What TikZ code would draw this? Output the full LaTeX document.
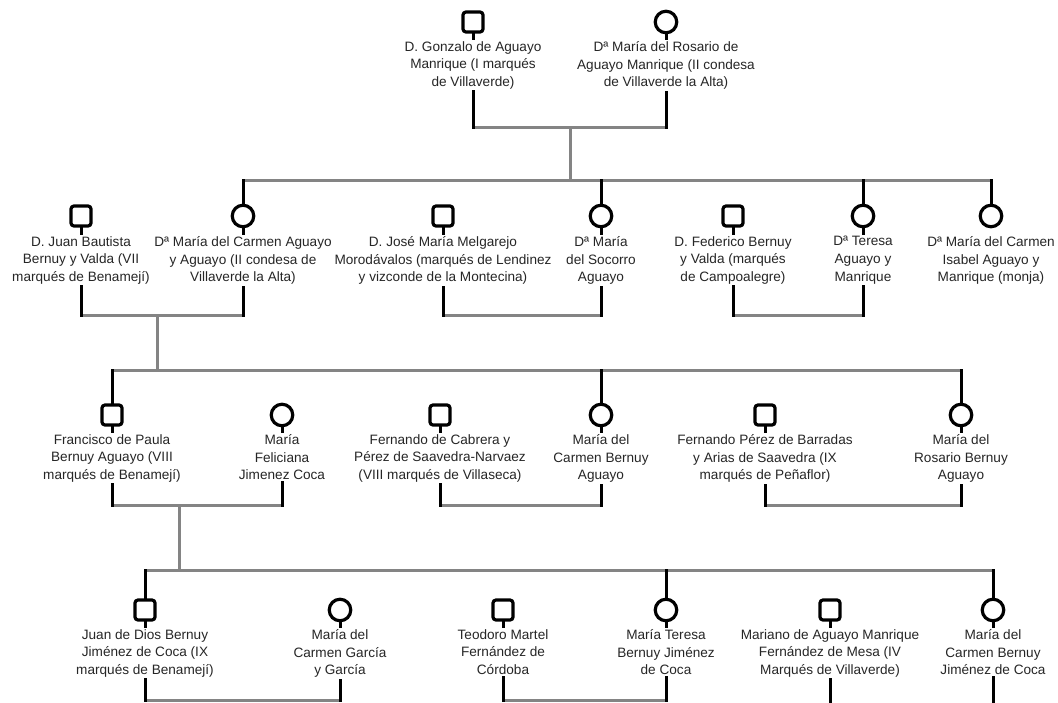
\documentclass[tikz,border=0pt]{standalone}
\usepackage{fontspec}
\setmainfont{Liberation Sans}
\usetikzlibrary{backgrounds}
\definecolor{gline}{RGB}{132,132,132}
\definecolor{txt}{RGB}{38,38,38}
\begin{document}
\begin{tikzpicture}[x=1pt,y=-1pt,
  male/.style={draw=black, line width=3.2pt, fill=white, rounded corners=3pt, minimum size=20pt, inner sep=0pt},
  female/.style={circle, draw=black, line width=3.2pt, fill=white, minimum size=21.5pt, inner sep=0pt},
  lbl/.style={fill=white, text=txt, align=center, inner sep=1pt, anchor=north, font=\fontsize{13.6}{17.8}\selectfont},
  bl/.style={draw=black, line width=3pt, line cap=rect},
  gl/.style={draw=gline, line width=3pt, line cap=rect},
]
\useasboundingbox (0,0) rectangle (1058,702);

% ---------- generation 0 ----------
\node[male]   (gonS) at (473,22) {};
\node[lbl]    (gonT) at (473,40) {D. Gonzalo de Aguayo\\Manrique (I marqués\\de Villaverde)};
\node[female] (rosS) at (666,22) {};
\node[lbl]    (rosT) at (666,40) {Dª María del Rosario de\\Aguayo Manrique (II condesa\\de Villaverde la Alta)};

% ---------- generation 1 ----------
\node[male]   (juaS) at (81,216) {};
\node[lbl]    (juaT) at (81,235) {D. Juan Bautista\\Bernuy y Valda (VII\\marqués de Benamejí)};
\node[female] (carS) at (243,216) {};
\node[lbl]    (carT) at (243,235) {Dª María del Carmen Aguayo\\y Aguayo (II condesa de\\Villaverde la Alta)};
\node[male]   (josS) at (443,216) {};
\node[lbl]    (josT) at (443,235) {D. José María Melgarejo\\Morodávalos (marqués de Lendinez\\y vizconde de la Montecina)};
\node[female] (socS) at (601,216) {};
\node[lbl]    (socT) at (601,235) {Dª María\\del Socorro\\Aguayo};
\node[male]   (fedS) at (733,216) {};
\node[lbl]    (fedT) at (733,235) {D. Federico Bernuy\\y Valda (marqués\\de Campoalegre)};
\node[female] (terS) at (863,216) {};
\node[lbl]    (terT) at (863,235) {Dª Teresa\\Aguayo y\\Manrique};
\node[female] (cisS) at (991,216) {};
\node[lbl]    (cisT) at (991,235) {Dª María del Carmen\\Isabel Aguayo y\\Manrique (monja)};

% ---------- generation 2 ----------
\node[male]   (fraS) at (112,415) {};
\node[lbl]    (fraT) at (112,433) {Francisco de Paula\\Bernuy Aguayo (VIII\\marqués de Benamejí)};
\node[female] (felS) at (282,415) {};
\node[lbl]    (felT) at (282,433) {María\\Feliciana\\Jimenez Coca};
\node[male]   (cabS) at (440,415) {};
\node[lbl]    (cabT) at (440,433) {Fernando de Cabrera y\\Pérez de Saavedra-Narvaez\\(VIII marqués de Villaseca)};
\node[female] (cbaS) at (601,415) {};
\node[lbl]    (cbaT) at (601,433) {María del\\Carmen Bernuy\\Aguayo};
\node[male]   (perS) at (765,415) {};
\node[lbl]    (perT) at (765,433) {Fernando Pérez de Barradas\\y Arias de Saavedra (IX\\marqués de Peñaflor)};
\node[female] (rbaS) at (961,415) {};
\node[lbl]    (rbaT) at (961,433) {María del\\Rosario Bernuy\\Aguayo};

% ---------- generation 3 ----------
\node[male]   (jdiS) at (145,610) {};
\node[lbl]    (jdiT) at (145,628) {Juan de Dios Bernuy\\Jiménez de Coca (IX\\marqués de Benamejí)};
\node[female] (cgaS) at (340,610) {};
\node[lbl]    (cgaT) at (340,628) {María del\\Carmen García\\y García};
\node[male]   (teoS) at (503,610) {};
\node[lbl]    (teoT) at (503,628) {Teodoro Martel\\Fernández de\\Córdoba};
\node[female] (mteS) at (666,610) {};
\node[lbl]    (mteT) at (666,628) {María Teresa\\Bernuy Jiménez\\de Coca};
\node[male]   (marS) at (830,610) {};
\node[lbl]    (marT) at (830,628) {Mariano de Aguayo Manrique\\Fernández de Mesa (IV\\Marqués de Villaverde)};
\node[female] (mcaS) at (993,610) {};
\node[lbl]    (mcaT) at (993,628) {María del\\Carmen Bernuy\\Jiménez de Coca};

% junction coordinates
\coordinate (m0) at (570,127);
\coordinate (g1) at (570,180);
\coordinate (m1) at (157,315);
\coordinate (g2) at (157,370);
\coordinate (m2) at (179,505);
\coordinate (g3) at (179,570);
\coordinate (m3) at (0,700);
\coordinate (endA) at (830,710);
\coordinate (endB) at (993,710);

\begin{scope}[on background layer]
  \fill[white] (0,0) rectangle (1058,702);
  % gray couple / sibling lines
  \draw[gl] (gonS |- m0) -- (rosS |- m0);
  \draw[gl] (m0) -- (g1);
  \draw[gl] (carS |- g1) -- (cisS |- g1);
  \draw[gl] (juaS |- m1) -- (carS |- m1);
  \draw[gl] (josS |- m1) -- (socS |- m1);
  \draw[gl] (fedS |- m1) -- (terS |- m1);
  \draw[gl] (m1) -- (g2);
  \draw[gl] (fraS |- g2) -- (rbaS |- g2);
  \draw[gl] (fraS |- m2) -- (felS |- m2);
  \draw[gl] (cabS |- m2) -- (cbaS |- m2);
  \draw[gl] (perS |- m2) -- (rbaS |- m2);
  \draw[gl] (m2) -- (g3);
  \draw[gl] (jdiS |- g3) -- (mcaS |- g3);
  \draw[gl] (jdiS |- m3) -- (cgaS |- m3);
  \draw[gl] (teoS |- m3) -- (mteS |- m3);
  % black person lines
  \draw[bl] (gonS) -- (gonS |- m0);
  \draw[bl] (rosS) -- (rosS |- m0);
  \draw[bl] (carS |- g1) -- (carS |- m1);
  \draw[bl] (socS |- g1) -- (socS |- m1);
  \draw[bl] (terS |- g1) -- (terS |- m1);
  \draw[bl] (cisS |- g1) -- (cisS);
  \draw[bl] (juaS) -- (juaS |- m1);
  \draw[bl] (josS) -- (josS |- m1);
  \draw[bl] (fedS) -- (fedS |- m1);
  \draw[bl] (fraS |- g2) -- (fraS |- m2);
  \draw[bl] (cbaS |- g2) -- (cbaS |- m2);
  \draw[bl] (rbaS |- g2) -- (rbaS |- m2);
  \draw[bl] (felS) -- (felS |- m2);
  \draw[bl] (cabS) -- (cabS |- m2);
  \draw[bl] (perS) -- (perS |- m2);
  \draw[bl] (jdiS |- g3) -- (jdiS |- m3);
  \draw[bl] (mteS |- g3) -- (mteS |- m3);
  \draw[bl] (mcaS |- g3) -- (endB);
  \draw[bl] (cgaS) -- (cgaS |- m3);
  \draw[bl] (teoS) -- (teoS |- m3);
  \draw[bl] (marS) -- (endA);
\end{scope}
\end{tikzpicture}
\end{document}
